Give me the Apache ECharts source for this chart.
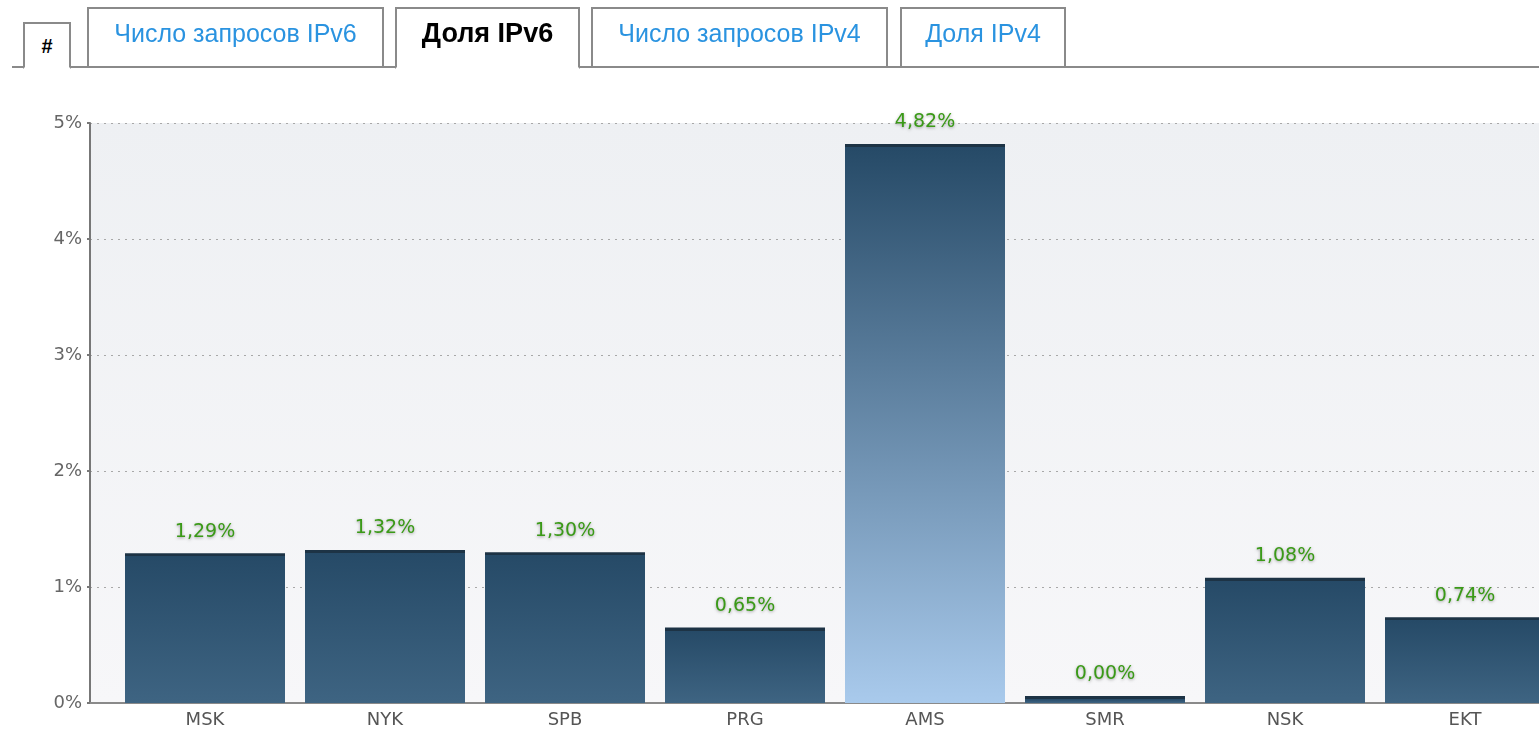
<!DOCTYPE html>
<html>
<head>
	<meta charset="utf-8">
	<script type="text/javascript" src="https://cdn.jsdelivr.net/npm/echarts@6/dist/echarts.min.js"></script>
	<style>
		body { margin: 0; background: #fff; }
		#wrap { position: relative; width: 1539px; height: 733px; overflow: hidden; }
		/* график шире окна: последний столбик обрезан краем */
		#main { position: absolute; left: 0; top: 0; width: 1555px; height: 733px; }
		.line { position: absolute; left: 12px; right: 0; top: 66px; height: 2px; background: #8a8a8a; }
		.tab { position: absolute; box-sizing: border-box; border: 2px solid #8a8a8a; background: #fff;
			font-family: "Liberation Sans", Arial, sans-serif; font-size: 25px; color: #2a93e0;
			text-align: center; }
		.tab.on { border-bottom: 2px solid #fff; color: #000; font-weight: bold; font-size: 27px; }
	</style>
</head>

<body>
<div id="wrap">
	<div id="main"></div>
	<div class="line"></div>
	<div class="tab on" style="left:23px;top:22px;width:48px;height:47px;font-size:20px;line-height:44px;">#</div>
	<div class="tab" style="left:87px;top:7px;width:297px;height:61px;line-height:48px;">Число запросов IPv6</div>
	<div class="tab on" style="left:395px;top:7px;width:185px;height:62px;line-height:48px;">Доля IPv6</div>
	<div class="tab" style="left:591px;top:7px;width:297px;height:61px;line-height:48px;">Число запросов IPv4</div>
	<div class="tab" style="left:900px;top:7px;width:166px;height:61px;line-height:48px;">Доля IPv4</div>
</div>

<script type="text/javascript">

  // данные
  var cities = ['MSK', 'NYK', 'SPB', 'PRG', 'AMS', 'SMR', 'NSK', 'EKT'];
  var ipv6Share = [1.29, 1.32, 1.30, 0.65, 4.82, 0.00, 1.08, 0.74];
  var yTicks = [0, 1, 2, 3, 4, 5];
  var selectedCity = 'AMS';

  var chart = echarts.init(document.getElementById('main'));

  var plotHeight = 580;
  var yMax = yTicks[yTicks.length - 1];

  // у каждого столбика тёмная полоска сверху
  function barColor(v, bottom) {
    var h = Math.max(v / yMax * plotHeight, 7);
    var f = Math.min(3 / h, 0.5);
    return new echarts.graphic.LinearGradient(0, 0, 0, 1, [
      { offset: 0, color: '#1d3345' },
      { offset: f, color: '#1d3345' },
      { offset: f + 0.001, color: '#264a67' },
      { offset: 1, color: bottom }
    ]);
  }

  var barData = ipv6Share.map(function (v, i) {
    return {
      value: v,
      itemStyle: { color: barColor(v, cities[i] === selectedCity ? '#a9caec' : '#3e6482') }
    };
  });

  var option = {
    animation: false,
    textStyle: { fontFamily: 'DejaVu Sans' },
    grid: [
      {
        left: 90, right: 0, top: 123, bottom: 30,
        show: true, borderWidth: 0,
        backgroundColor: new echarts.graphic.LinearGradient(0, 0, 0, 1, [
          { offset: 0, color: '#eef0f3' },
          { offset: 1, color: '#f7f7f9' }
        ])
      },
      { left: 115, right: 0, top: 123, bottom: 30 }
    ],
    xAxis: [
      {
        gridIndex: 0, type: 'category', data: [''],
        axisLine: { lineStyle: { color: '#8a8a8a', width: 2 } },
        axisTick: { show: false }, axisLabel: { show: false }
      },
      {
        gridIndex: 1, type: 'category', data: cities,
        axisLine: { show: false }, axisTick: { show: false },
        axisLabel: { color: '#555', fontSize: 18, margin: 8 }
      }
    ],
    yAxis: [
      {
        gridIndex: 0, type: 'value', min: 0, max: yMax, interval: 1,
        axisLine: { show: true, lineStyle: { color: '#777', width: 2 } },
        axisTick: { show: true, length: 3, lineStyle: { color: '#777', width: 2 } },
        axisLabel: { color: '#666', fontSize: 18, margin: 8, formatter: '{value}%' },
        splitLine: { lineStyle: { color: '#a8a8a8', type: [2, 5], width: 1 } }
      },
      {
        gridIndex: 1, type: 'value', min: 0, max: yMax, show: false
      }
    ],
    series: [
      {
        type: 'bar',
        xAxisIndex: 1,
        yAxisIndex: 1,
        barWidth: 160,
        barMinHeight: 7,
        data: barData,
        label: {
          show: true,
          position: 'top',
          distance: 12,
          color: '#3a9a17',
          fontSize: 19,
          textShadowColor: 'rgba(0,0,0,0.35)',
          textShadowBlur: 3,
          textShadowOffsetY: 1,
          formatter: function (p) {
            return p.value.toFixed(2).replace('.', ',') + '%';
          }
        }
      }
    ]
  };

  chart.setOption(option);
</script>
</body>
</html>
